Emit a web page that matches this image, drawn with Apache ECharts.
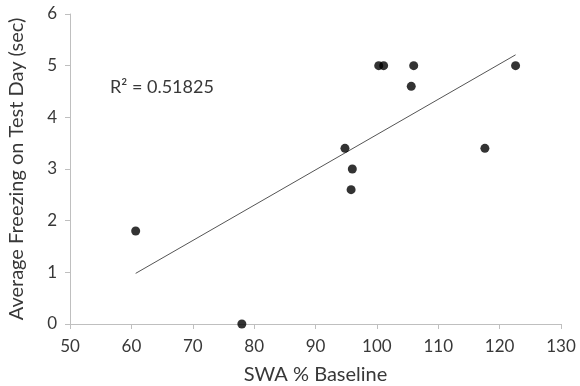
<!DOCTYPE html>
<html>
<head>
<meta charset="utf-8">
<script src="https://cdn.jsdelivr.net/npm/echarts@6/dist/echarts.min.js"></script>
<style>
  html, body { margin: 0; padding: 0; background: #fff; }
  #chart { width: 580px; height: 386px; }
</style>
</head>
<body>
<div id="chart"></div>
<script>
// SWA (% of baseline) vs. average freezing on the test day
const swaBaseline = [60.7, 78.0, 94.8, 95.8, 96.0, 100.3, 101.1, 105.6, 106.0, 117.6, 122.6];
const freezing    = [1.8,  0.0,  3.4,  2.6,  3.0,  5.0,   5.0,   4.6,   5.0,   3.4,   5.0];

// Linear trend line end points
const trendX = [60.7, 122.6];
const trendY = [0.98, 5.21];

const rSquaredText = 'R² = 0.51825';
const xAxisTitle = 'SWA % Baseline';
const yAxisTitle = 'Average Freezing on Test Day (sec)';

const fontFamily = 'Lato, "Open Sans", sans-serif';
const axisGray = '#bfbfbf';
const textColor = '#383838';

const points = swaBaseline.map((x, i) => [x, freezing[i]]);
const trend = trendX.map((x, i) => [x, trendY[i]]);

const chart = echarts.init(document.getElementById('chart'));
chart.setOption({
  animation: false,
  backgroundColor: '#fff',
  grid: { left: 70, right: 19, top: 14, bottom: 62, containLabel: false, outerBoundsMode: 'none' },
  xAxis: {
    type: 'value',
    min: 50, max: 130, interval: 10,
    name: xAxisTitle,
    nameLocation: 'middle',
    nameGap: 41,
    nameTextStyle: { fontFamily, fontSize: 20, color: textColor },
    axisLine: { show: true, lineStyle: { color: axisGray, width: 1 } },
    axisTick: { show: true, length: 5, lineStyle: { color: axisGray } },
    axisLabel: { fontFamily, fontSize: 17, color: textColor, margin: 14 },
    splitLine: { show: false }
  },
  yAxis: {
    type: 'value',
    min: 0, max: 6, interval: 1,
    name: yAxisTitle,
    nameLocation: 'middle',
    nameGap: 43,
    nameTextStyle: { fontFamily, fontSize: 20, color: textColor },
    axisLine: { show: true, lineStyle: { color: axisGray, width: 1 } },
    axisTick: { show: true, length: 5, lineStyle: { color: axisGray } },
    axisLabel: { fontFamily, fontSize: 17, color: textColor, margin: 13 },
    splitLine: { show: false }
  },
  series: [
    {
      type: 'line',
      data: trend,
      symbol: 'none',
      lineStyle: { color: '#555', width: 1 },
      silent: true,
      z: 1
    },
    {
      type: 'scatter',
      data: points,
      symbol: 'circle',
      symbolSize: 9,
      itemStyle: { color: '#000' },
      z: 2
    }
  ],
  graphic: [
    {
      type: 'text',
      left: 110,
      top: 78,
      style: {
        text: rSquaredText,
        font: '18px ' + fontFamily,
        fill: textColor
      }
    }
  ]
});
</script>
</body>
</html>
